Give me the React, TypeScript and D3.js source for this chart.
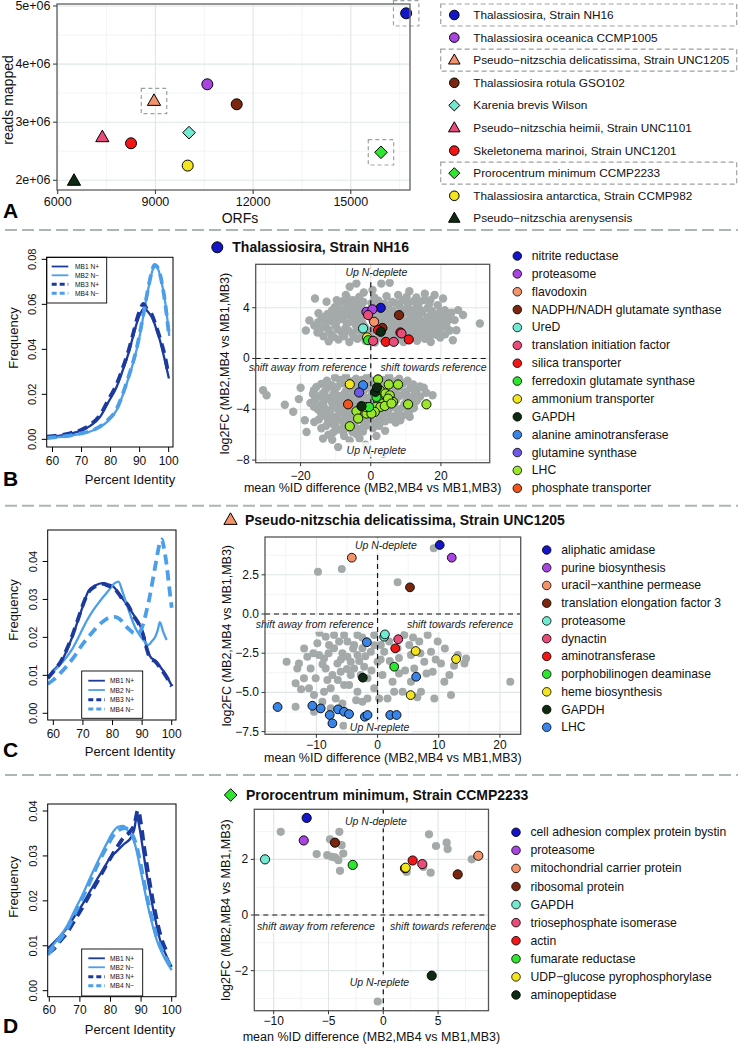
import React from "react";
import * as d3 from "d3";

const FONT = "'Liberation Sans', Arial, Helvetica, sans-serif";
type Pt = [number, number];
type Hi = [number, number, number];

// ================= Panel A data =================
const speciesNames = [
  "Thalassiosira, Strain NH16",
  "Thalassiosira oceanica CCMP1005",
  "Pseudo\u2212nitzschia delicatissima, Strain UNC1205",
  "Thalassiosira rotula GSO102",
  "Karenia brevis Wilson",
  "Pseudo\u2212nitzschia heimii, Strain UNC1101",
  "Skeletonema marinoi, Strain UNC1201",
  "Prorocentrum minimum CCMP2233",
  "Thalassiosira antarctica, Strain CCMP982",
  "Pseudo\u2212nitzschia arenysensis",
];
const speciesColors = ["#1414c8", "#a845e0", "#f4926a", "#7b2710", "#72ead2", "#e84c78", "#f21616", "#2ee62e", "#f2e41e", "#0e2a12"];
const speciesShapes = ["circle", "circle", "triangle", "circle", "diamond", "triangle", "circle", "diamond", "circle", "triangle"];
const speciesORFs = [16700, 10594, 8957, 11496, 10032, 7370, 8251, 15927, 9992, 6500];
const speciesReads = [4.874e6, 3.652e6, 3.365e6, 3.308e6, 2.82e6, 2.74e6, 2.637e6, 2.482e6, 2.253e6, 1.99e6];
const highlightedSpecies = [0, 2, 7];
const aXTicks = [6000, 9000, 12000, 15000];
const aXMinor = [7500, 10500, 13500, 16500];
const aYTicks = [2e6, 3e6, 4e6, 5e6];
const aYTickLabels = ["2e+06", "3e+06", "4e+06", "5e+06"];
const aYMinor = [2.5e6, 3.5e6, 4.5e6];

// ================= Density data =================
const densitySeries = ["MB1 N+", "MB2 N\u2212", "MB3 N+", "MB4 N\u2212"];
const densityColors = ["#1c3a9e", "#4c9ee9", "#1c3a9e", "#4c9ee9"];
const densityDashed = [false, false, true, true];
const densityXTicks = [60, 70, 80, 90, 100];

const bMB1: Pt[] = [[58,0.001],[62,0.0015],[66,0.0025],[70,0.004],[73,0.006],[76.4,0.010],[79,0.016],[82.1,0.0234],[84,0.030],[86.1,0.038],[88,0.047],[89,0.0515],[90.3,0.056],[91.5,0.0582],[93,0.0565],[94.7,0.053],[96,0.048],[97,0.044],[98.7,0.035],[100.1,0.027]];
const bMB2: Pt[] = [[58,0.0005],[62,0.001],[66,0.0015],[70,0.0025],[73,0.0035],[76.4,0.0055],[79,0.008],[82.1,0.013],[84,0.019],[86.1,0.027],[88,0.035],[89,0.040],[90.2,0.047],[91.3,0.055],[93,0.067],[94.2,0.074],[95,0.0768],[96,0.0765],[97,0.073],[98,0.067],[98.7,0.062],[100.2,0.046]];
const bMB3: Pt[] = [[58,0.0012],[62,0.0017],[66,0.0027],[70,0.0043],[73,0.0065],[76.4,0.0108],[79,0.017],[82.1,0.0245],[84,0.031],[86.1,0.039],[88,0.048],[89,0.053],[90.3,0.058],[91.3,0.0602],[92.5,0.058],[94,0.056],[95.5,0.051],[97,0.045],[98.7,0.037],[99.9,0.029]];
const bMB4: Pt[] = [[58,0.0006],[62,0.0011],[66,0.0017],[70,0.0027],[73,0.0037],[76.4,0.0058],[79,0.0085],[82.1,0.0135],[84,0.0195],[86.1,0.0275],[88,0.0355],[89,0.0405],[90.2,0.048],[91.3,0.0555],[93,0.0675],[94.2,0.0745],[95.1,0.0775],[96,0.0768],[97,0.0735],[98,0.0672],[98.7,0.0615],[100.1,0.0465]];

const cMB1: Pt[] = [[58.1,0.0094],[60,0.0113],[62.8,0.0137],[64.5,0.0165],[66.2,0.0197],[68,0.0237],[69.6,0.0274],[71.8,0.0321],[74,0.0336],[76.9,0.0343],[78.5,0.034],[80.3,0.0334],[82,0.0318],[83.6,0.030],[85.3,0.0282],[87,0.0261],[88.7,0.024],[90.4,0.021],[91.5,0.0175],[92.7,0.015],[94.5,0.0138],[96,0.0124],[98.3,0.0098],[100,0.0073]];
const cMB2: Pt[] = [[58.1,0.0096],[60,0.011],[62.3,0.0128],[64.5,0.0148],[66.2,0.0167],[68.8,0.0205],[71.3,0.0244],[73.5,0.0272],[75.8,0.0296],[78.3,0.032],[80.8,0.0343],[82,0.0347],[83.4,0.032],[84.8,0.0287],[86.2,0.0255],[87.6,0.0227],[89,0.0208],[90.4,0.0193],[92.1,0.018],[93.3,0.019],[94.4,0.0201],[95.3,0.022],[96,0.024],[97.1,0.0215],[98.3,0.0193]];
const cMB3: Pt[] = [[58.1,0.0092],[60,0.011],[62.8,0.014],[64.5,0.0168],[66.2,0.02],[68,0.024],[69.6,0.0277],[71.8,0.0318],[74,0.0334],[76.9,0.0341],[78.5,0.0336],[80.3,0.0331],[82,0.0316],[83.6,0.0298],[85.3,0.0284],[87,0.0258],[88.7,0.0238],[90.4,0.0205],[91.5,0.0172],[92.7,0.0145],[94.5,0.0136],[96,0.0121],[98.3,0.0095],[100,0.0071]];
const cMB4: Pt[] = [[58.1,0.0077],[60,0.0088],[62.3,0.0105],[64.5,0.0124],[67.3,0.0152],[70.1,0.0184],[72.4,0.0206],[74.7,0.0227],[77,0.0243],[79.2,0.0253],[80.8,0.0254],[82.5,0.0248],[84.2,0.0232],[85.9,0.0219],[87,0.0212],[88.2,0.021],[89.3,0.0215],[90.4,0.0236],[91.5,0.027],[92.7,0.0313],[93.8,0.036],[94.9,0.0407],[95.7,0.044],[96.6,0.0458],[97.4,0.0435],[98.3,0.039],[99.2,0.033],[100,0.0278]];

const dMB1: Pt[] = [[59.5,0.0094],[62.6,0.0115],[65.7,0.0139],[68.4,0.0167],[71.1,0.0195],[73.3,0.0221],[75.5,0.0247],[77.7,0.0271],[79.8,0.0295],[82,0.031],[84.2,0.0325],[86.9,0.0343],[87.8,0.036],[88.6,0.0388],[89.6,0.0358],[90.7,0.031],[91.8,0.0261],[92.9,0.022],[94,0.018],[95.1,0.0145],[96.2,0.0113],[98,0.0082],[100,0.0053]];
const dMB2: Pt[] = [[59.5,0.0087],[62.6,0.0113],[65.7,0.0143],[68.4,0.018],[71.1,0.0217],[73.8,0.0258],[76.6,0.0298],[78.8,0.0328],[80.9,0.0354],[82.5,0.0365],[84.2,0.0367],[85.8,0.0355],[87.5,0.0336],[88.6,0.031],[89.6,0.0276],[90.7,0.024],[91.8,0.0202],[93.4,0.0155],[95.1,0.0113],[97.5,0.0075],[100,0.0046]];
const dMB3: Pt[] = [[59.5,0.0083],[61.5,0.0093],[63.5,0.011],[65.7,0.0128],[68.4,0.0158],[71.1,0.0188],[73.3,0.0215],[75.5,0.024],[77.7,0.0268],[79.8,0.0293],[82,0.0318],[84.2,0.034],[86.5,0.0355],[87.8,0.037],[89,0.0402],[90,0.037],[91,0.032],[92,0.0275],[93.2,0.0225],[94.5,0.0178],[95.8,0.0138],[97.2,0.0105],[98.6,0.0085]];
const dMB4: Pt[] = [[59.5,0.008],[62.6,0.0106],[65.7,0.0136],[68.4,0.0172],[71.1,0.021],[73.8,0.025],[76.6,0.0292],[78.8,0.032],[80.9,0.0345],[82.5,0.0357],[84.8,0.0362],[86.2,0.0356],[87.5,0.0342],[88.6,0.032],[89.6,0.029],[90.7,0.0252],[91.8,0.0213],[93.4,0.0165],[95.1,0.012],[97.5,0.0081],[100,0.005]];

// ================= Scatter B =================
const bGenes = ["nitrite reductase","proteasome","flavodoxin","NADPH/NADH glutamate synthase","UreD","translation initiation factor","silica transporter","ferredoxin glutamate synthase","ammonium transporter","GAPDH","alanine aminotransferase","glutamine synthase","LHC","phosphate transporter"];
const bColors = ["#1414c8","#a845e0","#f4926a","#7b2710","#72ead2","#e84c78","#f21616","#2ee62e","#f2e41e","#0e2a12","#3a86e8","#6c5ae6","#9ae62a","#f2541e"];
const bGrayUp: Pt[] = [
  [-12,1.35],[-9.2,1.5],[-6.1,1.3],[-3.8,1.55],[-1.5,1.4],[1.2,1.25],[3.3,1.6],[5.4,1.35],[7.6,1.5],[9.3,1.3],[11.5,1.6],[13.2,1.4],[15.4,1.55],[17.1,1.3],[19.8,1.65],[23.4,1.44],
  [-15.2,2.05],[-11.3,1.9],[-8.4,2.1],[-5.2,1.95],[-3.1,2.2],[-0.8,1.85],[2.3,2.0],[4.4,1.9],[6.2,2.15],[8.1,1.95],[10.4,2.1],[12.3,1.9],[14.1,2.2],[16.3,1.95],[18.2,2.1],[21.5,2.5],[24.4,2.23],
  [-16.1,2.6],[-13.2,2.45],[-10.1,2.6],[-7.2,2.4],[-4.3,2.65],[-1.7,2.5],[1.1,2.55],[3.6,2.7],[5.9,2.45],[8.6,2.6],[11.2,2.5],[13.6,2.65],[15.9,2.45],[18.6,2.7],[20.8,2.55],
  [-14.1,3.05],[-11.2,2.95],[-8.3,3.1],[-5.6,2.9],[-3.2,3.15],[0.4,3.05],[3.1,3.2],[5.5,2.95],[8.2,3.1],[10.6,3.0],[13.1,3.2],[15.6,2.95],[17.9,3.15],[20.2,3.0],[22.6,3.1],[23.9,3.02],
  [-12.3,3.5],[-9.1,3.6],[-6.6,3.45],[-4.1,3.65],[1.6,3.5],[4.6,3.6],[7.1,3.45],[9.6,3.65],[12.2,3.5],[14.6,3.6],[17.2,3.45],[19.6,3.6],[26.3,3.42],
  [-10.2,4.05],[-7.1,3.95],[-5.2,4.15],[-3.0,4.0],[1.0,4.1],[5.1,3.95],[8.1,4.15],[10.6,4.0],[13.2,4.1],[16.1,3.95],[19.1,4.2],[21.1,3.81],[24.9,3.81],
  [-8.2,4.5],[-5.1,4.6],[-2.1,4.45],[2.2,4.55],[6.1,4.45],[9.1,4.6],[12.1,4.5],[15.2,4.6],[18.2,5.0],[20.6,4.73],
  [-15.9,4.73],[-14.9,3.56],[-15.2,2.45],[-12.6,4.47],[-9.7,4.6],[-7.1,5.0],[-6.0,5.65],[-4.1,6.7],[-4.1,5.9],[3.0,5.9],[5.4,5.97],[7.8,5.0],[15.4,5.1],[31.1,2.76],[-2.0,5.2],[0.5,5.4],[11,5.3],[-17.5,3.0],[-18.5,2.2],
  [-13.5,1.75],[-10.6,1.7],[-7.6,1.75],[-4.8,1.7],[-2.3,1.75],[0.2,1.65],[2.6,1.75],[4.9,1.7],[6.9,1.8],[9.0,1.7],[11.0,1.8],[13.0,1.72],[14.8,1.78],[16.9,1.72],[18.9,1.85],[21.2,1.9],
  [-14.5,2.3],[-12.0,2.25],[-9.5,2.3],[-6.4,2.2],[-4.0,2.35],[-2.1,2.3],[0.3,2.25],[2.9,2.35],[5.2,2.25],[7.3,2.35],[9.5,2.3],[11.8,2.3],[13.0,2.4],[15.2,2.25],[17.3,2.35],[19.5,2.3],[22.5,2.2],
  [-15.0,2.85],[-12.6,2.8],[-9.8,2.85],[-6.8,2.75],[-4.5,2.9],[-2.4,2.8],[1.8,2.85],[4.4,2.95],[6.9,2.8],[9.4,2.85],[12.0,2.8],[14.4,2.9],[16.8,2.8],[19.2,2.85],[21.6,2.8],
  [-13.0,3.3],[-10.3,3.25],[-7.4,3.35],[-5.0,3.25],[-2.3,3.4],[0.0,3.3],[2.2,3.35],[4.0,3.3],[6.3,3.3],[8.8,3.35],[11.3,3.3],[13.8,3.35],[16.3,3.25],[18.8,3.35],[21.3,3.3],
  [-11.0,3.8],[-8.2,3.8],[-5.8,3.85],[-2.2,3.8],[0.1,3.75],[3.4,3.8],[6.3,3.75],[9.1,3.85],[11.6,3.8],[14.0,3.85],[17.4,3.75],[20.1,3.7],[23.0,3.6],
  [-9.2,4.3],[-6.5,4.35],[-3.8,4.3],[0.2,4.35],[3.9,4.3],[7.2,4.35],[10.5,4.3],[13.7,4.35],[16.7,4.3],
  [-6.8,4.8],[-3.3,4.85],[1.0,4.8],[4.5,4.9],[10.2,4.85],[13.0,4.8],[17.0,4.6],
];
const bGrayDown: Pt[] = [
  [-10.2,-1.5],[-7.1,-1.4],[-4.2,-1.6],[-1.1,-1.45],[2.1,-1.55],[5.2,-1.4],[8.1,-1.6],
  [-14.1,-2.0],[-11.2,-2.1],[-8.1,-1.95],[-5.2,-2.05],[-3.1,-1.9],[-0.6,-2.1],[3.1,-2.0],[6.1,-2.1],[9.2,-1.95],[12.1,-2.05],
  [-16.2,-2.5],[-13.1,-2.6],[-10.2,-2.45],[-7.1,-2.55],[-4.6,-2.4],[-2.1,-2.6],[0.6,-2.45],[3.6,-2.55],[7.1,-2.5],[10.1,-2.6],[13.2,-2.45],[15.1,-2.3],
  [-15.1,-3.0],[-12.1,-3.1],[-9.1,-2.95],[-6.1,-3.05],[-3.6,-2.95],[-1.1,-3.1],[2.1,-3.0],[5.1,-3.1],[8.1,-2.95],[11.1,-3.05],[14.1,-3.0],[17.6,-2.9],
  [-17.2,-3.5],[-14.1,-3.6],[-11.1,-3.45],[-8.6,-3.55],[-5.1,-3.5],[-2.6,-3.6],[0.1,-3.45],[3.1,-3.55],[6.6,-3.5],[9.6,-3.6],[12.6,-3.45],
  [-15.1,-4.0],[-12.2,-4.1],[-9.6,-3.95],[-7.1,-4.05],[-4.1,-4.0],[-1.6,-4.1],[1.6,-3.95],[5.1,-4.05],[8.1,-4.0],[11.1,-4.1],
  [-13.1,-4.5],[-10.1,-4.6],[-7.6,-4.45],[-5.6,-4.55],[-3.1,-4.5],[0.1,-4.6],[3.1,-4.45],[6.6,-4.55],[9.1,-4.5],[11.1,-4.6],
  [-16.1,-5.0],[-11.1,-5.1],[-8.1,-4.95],[-5.1,-5.05],[-2.1,-5.0],[1.1,-5.1],[4.1,-4.95],[7.1,-5.05],[8.4,-4.87],
  [-14.1,-5.5],[-9.1,-5.6],[-6.1,-5.45],[-3.1,-5.55],[0.6,-5.5],[4.1,-5.7],
  [-12.1,-6.0],[-7.6,-6.1],[-4.1,-5.95],[1.6,-6.1],
  [-30.7,-2.5],[-29.7,-2.9],[-24.5,-3.64],[-22.1,-4.2],[-20.5,-3.2],[-18.8,-4.86],[-18.3,-5.79],[-13.6,-6.31],[-9.3,-6.98],[-6.0,-6.45],[3.5,-7.5],[-1.5,-6.8],[-20,-2.3],
  [-12.5,-1.75],[-8.8,-1.7],[-5.7,-1.8],[-2.5,-1.7],[0.6,-1.75],[3.6,-1.7],[6.6,-1.8],[10.5,-1.75],
  [-15.5,-2.25],[-12.4,-2.3],[-9.6,-2.25],[-6.3,-2.3],[-3.6,-2.25],[-1.2,-2.35],[1.8,-2.2],[4.6,-2.3],[8.2,-2.25],[11.3,-2.3],[14.0,-2.2],
  [-16.5,-2.8],[-13.8,-2.8],[-10.6,-2.75],[-7.6,-2.8],[-4.9,-2.75],[-2.4,-2.8],[0.4,-2.8],[3.9,-2.75],[6.8,-2.8],[9.5,-2.75],[12.5,-2.8],[15.8,-2.7],
  [-16.0,-3.3],[-13.2,-3.3],[-10.0,-3.25],[-7.3,-3.3],[-4.3,-3.25],[-1.9,-3.35],[1.0,-3.25],[4.1,-3.3],[7.2,-3.3],[10.2,-3.25],[13.2,-3.3],
  [-16.2,-3.8],[-13.4,-3.8],[-10.8,-3.75],[-8.2,-3.8],[-5.6,-3.75],[-3.0,-3.85],[-0.6,-3.75],[2.6,-3.8],[6.4,-3.8],[9.4,-3.8],[12.3,-3.9],
  [-14.2,-4.3],[-11.6,-4.3],[-8.8,-4.25],[-6.4,-4.3],[-4.6,-4.3],[-2.0,-4.3],[1.5,-4.3],[4.6,-4.3],[7.7,-4.3],[10.4,-4.35],
  [-14.8,-4.8],[-12.2,-4.8],[-9.6,-4.8],[-6.6,-4.8],[-3.8,-4.8],[-0.9,-4.85],[2.4,-4.8],[5.7,-4.8],
  [-12.7,-5.3],[-10.2,-5.3],[-7.6,-5.25],[-4.6,-5.3],[-1.4,-5.3],[2.4,-5.3],
  [-10.6,-5.8],[-7.8,-5.75],[-5.2,-5.8],[-2.2,-5.75],[-11.0,-6.4],[-3.2,-6.3],
];
const bHighlights: Hi[] = [
  [0,2.85,3.99],[1,-1.23,3.68],[1,0.48,3.87],[5,-0.77,3.42],[4,-2.19,2.37],[2,0.95,2.89],[3,3.32,2.41],[3,8.06,3.42],
  [6,2.08,2.23],[9,2.85,2.1],[6,4.27,1.31],[6,10.83,1.5],[6,8.45,2.05],[5,6.55,1.31],[5,8.75,1.97],
  [8,-1.05,1.66],[7,-0.77,1.44],[5,0.66,1.39],
  [8,-5.98,-2.03],[10,-2.19,-2.11],[11,-3.33,-2.68],[13,-6.47,-3.61],
  [12,2.08,-1.66],[12,5.13,-2.05],[12,7.78,-2.05],[12,2.56,-2.5],[12,4.19,-2.76],[12,5.41,-2.9],[12,2.08,-3.29],[12,3.5,-3.55],[12,6.35,-3.42],[12,4.93,-3.16],[12,1.34,-3.82],[12,2.75,-3.82],[12,3.99,-3.74],[12,5.89,-3.55],[12,-1.23,-4.34],[12,-4.08,-4.16],[12,-3.6,-4.73],[12,-1.42,-3.82],[12,1.14,-4.21],[12,0.19,-4.34],[12,10.64,-3.61],[12,15.86,-3.61],[12,-5.98,-5.34],
  [7,-0.48,-3.82],[7,1.62,-3.03],
  [9,1.34,-2.63],[9,1.8,-2.29],[9,-2.65,-3.76],
];
const bXTicks = [-20, 0, 20];
const bXTickLabels = ["\u221220", "0", "20"];
const bXMinor = [-30, -10, 10, 30];
const bYTicks = [-8, -4, 0, 4];
const bYTickLabels = ["\u22128", "\u22124", "0", "4"];
const bYMinor = [-6, -2, 2, 6];

// ================= Scatter C =================
const cGenes = ["aliphatic amidase","purine biosynthesis","uracil\u2212xanthine permease","translation elongation factor 3","proteasome","dynactin","aminotransferase","porphobilinogen deaminase","heme biosynthesis","GAPDH","LHC"];
const cColors = ["#1414c8","#a845e0","#f4926a","#7b2710","#72ead2","#e84c78","#f21616","#2ee62e","#f2e41e","#0e2a12","#3a86e8"];
const cGray: Pt[] = [
  [-9.74,2.7],[-5.85,2.87],[9.18,4.19],[3.28,2.02],
  [-14.87,-3.04],[-13.4,-4.42],[-13.4,-5.91],[-11.48,-2.72],[-9.84,-1.87],[-9.57,-2.62],[-8.48,-1.45],[-8.48,-3.47],[-7.11,-1.34],[-7.11,-2.19],[-6.56,-3.15],[-5.75,-2.51],[-5.47,-1.34],[-4.93,-1.76],[-4.38,-3.04],[-3.83,-1.98],[-3.29,-1.34],[-3.29,-2.62],[-2.47,-2.19],[-2.19,-3.36],[-1.65,-4.1],[-1.1,-2.4],[-0.55,-1.34],[0,-3.04],[0.54,-1.98],[1.09,-2.4],[2.45,-4.32],[2.72,-4.95],[1.63,-5.38],[4.09,-4.95],[4.36,-1.34],[5.18,-1.98],[5.46,-2.62],[6.0,-3.47],[6.82,-1.76],[7.64,-3.04],[8.19,-1.34],[8.74,-2.4],[9.01,-3.68],[9.28,-5.38],[9.83,-1.76],[10.37,-3.15],[10.92,-4.32],[11.74,-3.89],[12.01,-5.17],[13.11,-2.62],[14.2,-3.15],[14.47,-2.83],
  [-13.12,-3.47],[-11.21,-4.74],[-10.12,-4.1],[-8.75,-4.95],[-7.66,-4.74],[-6.84,-5.38],[-5.47,-4.53],[-4.38,-3.89],[-3.29,-4.95],[-2.47,-5.59],[-1.65,-5.38],[-5.75,-5.7],[-7.66,-6.01],[-9.02,-5.59],[-10.39,-5.17],[-12.85,-3.15],[-5.58,-7.12],[1.9,-1.76],[3.27,-2.19],[0.81,-3.89],[-0.55,-4.74],[0.27,-5.38],[5.46,-4.32],[7.1,-4.95],
  [-7.93,-1.98],[-6.29,-1.76],[-7.38,-3.89],[-6.02,-3.68],[-4.93,-2.72],[-3.83,-3.47],[-2.74,-3.89],[-4.65,-4.53],[-10.94,-3.47],[-8.75,-2.83],[-12.03,-4.1],[-10.39,-6.23],[21.7,-4.32],
  [-12.0,-2.2],[-10.5,-2.5],[-9.0,-3.2],[-8.0,-2.5],[-6.0,-2.9],[-5.0,-3.5],[-4.0,-2.2],[-3.0,-3.0],[-2.0,-2.7],[-1.0,-3.6],[-0.5,-2.0],[0.5,-2.9],[2.0,-3.0],[3.5,-2.8],[4.5,-3.6],[5.8,-1.5],[7.0,-2.5],[8.0,-3.8],[9.5,-2.9],[11.0,-2.2],[12.5,-3.3],[-6.5,-4.2],[-8.2,-4.2],[-3.5,-5.5],[-12.5,-4.8],[6.5,-5.3],[3.5,-3.8],[-9.5,-1.2],[-2.5,-1.5],
];
const cHighlights: Hi[] = [
  [0,10.16,4.4],[1,12.13,3.59],[2,-4.21,3.59],[3,5.3,1.7],[4,1.08,-1.45],[4,1.2,-1.3],[5,3.38,-1.61],[6,2.89,-2.19],[7,2.72,-3.36],[8,6.23,-2.36],[8,12.84,-2.87],[8,5.41,-5.17],[9,-2.41,-4.06],
  [10,-1.75,-1.8],[10,6.31,-4.0],[10,-16.34,-5.93],[10,-10.66,-5.85],[10,-9.3,-6.02],[10,-7.82,-6.44],[10,-7.38,-6.97],[10,-6.46,-6.08],[10,-5.48,-6.23],[10,-4.66,-6.38],[10,-2.08,-6.55],[10,-1.64,-6.44],[10,2.07,-6.44],[10,3.11,-6.44],
];
const cXTicks = [-10, 0, 10, 20];
const cXTickLabels = ["\u221210", "0", "10", "20"];
const cXMinor = [-15, -5, 5, 15];
const cYTicks = [-7.5, -5, -2.5, 0, 2.5];
const cYTickLabels = ["\u22127.5", "\u22125.0", "\u22122.5", "0.0", "2.5"];
const cYMinor = [-6.25, -3.75, -1.25, 1.25, 3.75];

// ================= Scatter D =================
const dGenes = ["cell adhesion complex protein bystin","proteasome","mitochondrial carrier protein","ribosomal protein","GAPDH","triosephosphate isomerase","actin","fumarate reductase","UDP\u2212glucose pyrophosphorylase","aminopeptidase"];
const dColors = ["#1414c8","#a845e0","#f4926a","#7b2710","#72ead2","#e84c78","#f21616","#2ee62e","#f2e41e","#0e2a12"];
const dGray: Pt[] = [
  [-9.36,2.99],[-6.08,2.19],[-5.11,2.15],[-4.86,2.72],[-4.71,2.09],[-4.1,1.97],[-4.01,2.99],[-3.8,2.51],[-3.65,2.21],[-3.95,1.59],[-4.41,2.07],
  [4.17,2.9],[4.81,2.48],[5.78,2.6],[5.87,2.37],[4.32,1.52],[3.65,1.73],[2.13,1.55],[8.07,2.0],[-0.51,-3.11],
];
const dHighlights: Hi[] = [
  [0,-6.99,3.49],[1,-7.26,2.68],[3,-4.41,2.6],[4,-10.79,2.0],[7,-2.79,1.8],[6,1.98,1.68],[6,2.68,1.96],[8,2.04,1.7],[5,3.56,1.83],[3,6.79,1.46],[2,8.67,2.13],[9,4.42,-2.18],
];
const dXTicks = [-10, -5, 0, 5];
const dXTickLabels = ["\u221210", "\u22125", "0", "5"];
const dXMinor = [-7.5, -2.5, 2.5, 7.5];
const dYTicks = [-2, 0, 2];
const dYTickLabels = ["\u22122", "0", "2"];
const dYMinor = [-3, -1, 1, 3];

// ================= styling =================
const GRID_MAJOR = "#dfe6e6";
const GRID_MINOR = "#edf1f1";
const BORDER = "#555";
const GRAY_PT = "#a4a9a9";
const SEP = "#adb5b5";

let measureCtx: CanvasRenderingContext2D | null = null;
function textWidth(t: string, size: number, style = "") {
  if (!measureCtx && typeof document !== "undefined") measureCtx = document.createElement("canvas").getContext("2d");
  if (!measureCtx) return t.length * size * 0.5;
  measureCtx.font = `${style} ${size}px ${FONT}`;
  return measureCtx.measureText(t).width;
}

function Sym({ shape, x, y, s, fill }: { shape: string; x: number; y: number; s: number; fill: string }) {
  if (shape === "triangle") {
    const pts = [[x, y - s * 1.3], [x - s * 1.2, y + s * 0.8], [x + s * 1.2, y + s * 0.8]];
    return <polygon points={pts.map((p) => p.join(",")).join(" ")} fill={fill} stroke="#000" strokeWidth={1} strokeLinejoin="round" />;
  }
  if (shape === "diamond") {
    const d = s * 1.15;
    return <polygon points={`${x},${y - d} ${x + d},${y} ${x},${y + d} ${x - d},${y}`} fill={fill} stroke="#000" strokeWidth={1} />;
  }
  return <circle cx={x} cy={y} r={s} fill={fill} stroke="#000" strokeWidth={1} />;
}

function PanelA() {
  const L = 57, R = 410, T = 4, B = 190;
  const x = d3.scaleLinear().domain([5978, 16818]).range([L, R]);
  const y = d3.scaleLinear().domain([1.833e6, 5.034e6]).range([B, T]);
  return (
    <g>
      <rect x={L} y={T} width={R - L} height={B - T} fill="#fff" />
      {aXMinor.map((v) => <line key={"xm" + v} x1={x(v)} x2={x(v)} y1={T} y2={B} stroke={GRID_MINOR} strokeWidth={0.7} />)}
      {aYMinor.map((v) => <line key={"ym" + v} x1={L} x2={R} y1={y(v)} y2={y(v)} stroke={GRID_MINOR} strokeWidth={0.7} />)}
      {aXTicks.map((v) => <line key={"xg" + v} x1={x(v)} x2={x(v)} y1={T} y2={B} stroke={GRID_MAJOR} strokeWidth={1.1} />)}
      {aYTicks.map((v) => <line key={"yg" + v} x1={L} x2={R} y1={y(v)} y2={y(v)} stroke={GRID_MAJOR} strokeWidth={1.1} />)}
      {highlightedSpecies.map((i) => (
        <rect key={"hb" + i} x={x(speciesORFs[i]) - 12.7} y={y(speciesReads[i]) - 12.7} width={25.4} height={25.4} fill="none" stroke="#9aa3a3" strokeWidth={1.2} strokeDasharray="4,3" />
      ))}
      {speciesORFs.map((v, i) => (
        <Sym key={"p" + i} shape={speciesShapes[i]} x={x(v)} y={y(speciesReads[i])} s={5.5} fill={speciesColors[i]} />
      ))}
      <rect x={L} y={T} width={R - L} height={B - T} fill="none" stroke="#6a6a6a" strokeWidth={1.4} />
      {aXTicks.map((v) => (
        <g key={"xt" + v}>
          <line x1={x(v)} x2={x(v)} y1={B} y2={B + 4} stroke="#333" />
          <text x={x(v)} y={B + 11.5} textAnchor="middle" dominantBaseline="central" fontSize={12.5} fill="#111">{v}</text>
        </g>
      ))}
      {aYTicks.map((v, i) => (
        <g key={"yt" + v}>
          <line x1={L - 4} x2={L} y1={y(v)} y2={y(v)} stroke="#333" />
          <text x={L - 6.5} y={y(v)} textAnchor="end" dominantBaseline="central" fontSize={12.5} fill="#111">{aYTickLabels[i]}</text>
        </g>
      ))}
      <text x={240} y={218} textAnchor="middle" dominantBaseline="central" fontSize={14} fill="#111">ORFs</text>
      <text transform={`translate(8,100) rotate(-90)`} textAnchor="middle" dominantBaseline="central" fontSize={14} fill="#111">reads mapped</text>
      <text x={3} y={218} fontSize={21} fontWeight="bold" fill="#000">A</text>
    </g>
  );
}

function LegendA() {
  const y0 = 15, dy = 22.6;
  return (
    <g>
      {highlightedSpecies.map((i) => (
        <rect key={"lb" + i} x={440.7} y={y0 + i * dy - 11} width={296} height={22} fill="none" stroke="#9aa3a3" strokeWidth={1.2} strokeDasharray="5,3" />
      ))}
      {speciesNames.map((n, i) => (
        <g key={n}>
          <Sym shape={speciesShapes[i]} x={454.3} y={y0 + i * dy} s={4.8} fill={speciesColors[i]} />
          <text x={473.3} y={y0 + i * dy} dominantBaseline="central" fontSize={11.8} fill="#111">{n}</text>
        </g>
      ))}
    </g>
  );
}

type Frame = { l: number; r: number; t: number; b: number };

function Density(props: {
  id: string; frame: Frame; xDomain: Pt; yDomain: Pt; yTicks: number[]; yTickLabels: string[];
  series: Pt[][]; legend: { x: number; y: number; w: number; h: number; rows: number[]; lx: number; tx: number };
  xTitleY: number; yTitleY: number; letter: string; letterY: number;
}) {
  const { id, frame, xDomain, yDomain, yTicks, yTickLabels, series, legend, xTitleY, yTitleY, letter, letterY } = props;
  const x = d3.scaleLinear().domain(xDomain).range([frame.l, frame.r]);
  const y = d3.scaleLinear().domain(yDomain).range([frame.b, frame.t]);
  const line = d3.line<Pt>().x((d) => x(d[0])).y((d) => y(d[1])).curve(d3.curveMonotoneX);
  return (
    <g>
      <defs>
        <clipPath id={id}>
          <rect x={frame.l} y={frame.t} width={frame.r - frame.l} height={frame.b - frame.t} />
        </clipPath>
      </defs>
      <g clipPath={`url(#${id})`}>
        {series.map((s, i) => (
          <path key={i} d={line(s) || ""} fill="none" stroke={densityColors[i]} strokeWidth={densityDashed[i] ? 3.8 : 2.3}
            strokeDasharray={densityDashed[i] ? "10,6" : undefined} strokeLinejoin="round" />
        ))}
      </g>
      <rect x={legend.x} y={legend.y} width={legend.w} height={legend.h} fill="#fff" stroke="#000" strokeWidth={0.9} />
      {densitySeries.map((n, i) => (
        <g key={n}>
          <line x1={legend.lx} x2={legend.lx + 16.6} y1={legend.rows[i]} y2={legend.rows[i]} stroke={densityColors[i]}
            strokeWidth={densityDashed[i] ? 3 : 1.8} strokeDasharray={densityDashed[i] ? "5,3" : undefined} />
          <text x={legend.tx} y={legend.rows[i]} dominantBaseline="central" fontSize={6.6} fill="#111">{n}</text>
        </g>
      ))}
      <rect x={frame.l} y={frame.t} width={frame.r - frame.l} height={frame.b - frame.t} fill="none" stroke="#000" strokeWidth={1} />
      {densityXTicks.map((v) => (
        <g key={"x" + v}>
          <line x1={x(v)} x2={x(v)} y1={frame.b} y2={frame.b + 5} stroke="#000" />
          <text x={x(v)} y={frame.b + 13.5} textAnchor="middle" dominantBaseline="central" fontSize={12} fill="#111">{v}</text>
        </g>
      ))}
      {yTicks.map((v, i) => (
        <g key={"y" + v}>
          <line x1={frame.l - 5} x2={frame.l} y1={y(v)} y2={y(v)} stroke="#000" />
          <text transform={`translate(${frame.l - 14.5},${y(v)}) rotate(-90)`} textAnchor="middle" dominantBaseline="central" fontSize={11} fill="#111">{yTickLabels[i]}</text>
        </g>
      ))}
      <text x={130} y={xTitleY} textAnchor="middle" dominantBaseline="central" fontSize={13} fill="#111">Percent Identity</text>
      <text transform={`translate(13.3,${yTitleY}) rotate(-90)`} textAnchor="middle" dominantBaseline="central" fontSize={13} fill="#111">Frequency</text>
      <text x={3} y={letterY} fontSize={21} fontWeight="bold" fill="#000">{letter}</text>
    </g>
  );
}

function AnnLabel({ x, y, text, anchor }: { x: number; y: number; text: string; anchor: "start" | "middle" | "end" }) {
  const fs = 10.5;
  const w = textWidth(text, fs, "italic");
  const x0 = anchor === "middle" ? x - w / 2 : anchor === "end" ? x - w : x;
  return (
    <g>
      <rect x={x0 - 3} y={y - 7.5} width={w + 6} height={15} rx={2} fill="#fff" fillOpacity={0.85} />
      <text x={x0} y={y} dominantBaseline="central" fontSize={fs} fontStyle="italic" fill="#222">{text}</text>
    </g>
  );
}

function Scatter(props: {
  frame: Frame; xDomain: Pt; yDomain: Pt;
  xTicks: number[]; xTickLabels: string[]; xMinor: number[];
  yTicks: number[]; yTickLabels: string[]; yMinor: number[];
  gray: Pt[]; highlights: Hi[]; colors: string[];
  ann: { deplete: Pt; replete: Pt; away: Pt; towards: Pt };
  xTickY: number; xTitleY: number; yTitleX: number; pr: number; gr: number;
}) {
  const { frame, xDomain, yDomain, xTicks, xTickLabels, xMinor, yTicks, yTickLabels, yMinor, gray, highlights, colors, ann, xTickY, xTitleY, yTitleX, pr, gr } = props;
  const x = d3.scaleLinear().domain(xDomain).range([frame.l, frame.r]);
  const y = d3.scaleLinear().domain(yDomain).range([frame.b, frame.t]);
  const inX = (v: number) => v > xDomain[0] && v < xDomain[1];
  const inY = (v: number) => v > yDomain[0] && v < yDomain[1];
  return (
    <g>
      <rect x={frame.l} y={frame.t} width={frame.r - frame.l} height={frame.b - frame.t} fill="#fff" />
      {xMinor.filter(inX).map((v) => <line key={"xm" + v} x1={x(v)} x2={x(v)} y1={frame.t} y2={frame.b} stroke={GRID_MINOR} strokeWidth={0.7} />)}
      {yMinor.filter(inY).map((v) => <line key={"ym" + v} x1={frame.l} x2={frame.r} y1={y(v)} y2={y(v)} stroke={GRID_MINOR} strokeWidth={0.7} />)}
      {xTicks.map((v) => <line key={"xg" + v} x1={x(v)} x2={x(v)} y1={frame.t} y2={frame.b} stroke={GRID_MAJOR} strokeWidth={1.1} />)}
      {yTicks.map((v) => <line key={"yg" + v} x1={frame.l} x2={frame.r} y1={y(v)} y2={y(v)} stroke={GRID_MAJOR} strokeWidth={1.1} />)}
      {gray.map((p, i) => <circle key={"g" + i} cx={x(p[0])} cy={y(p[1])} r={gr} fill={GRAY_PT} />)}
      <line x1={x(0)} x2={x(0)} y1={frame.t} y2={frame.b} stroke="#111" strokeWidth={1.2} strokeDasharray="5,4" />
      <line x1={frame.l} x2={frame.r} y1={y(0)} y2={y(0)} stroke="#111" strokeWidth={1.2} strokeDasharray="5,4" />
      <AnnLabel x={x(ann.deplete[0])} y={y(ann.deplete[1])} text="Up N-deplete" anchor="middle" />
      <AnnLabel x={x(ann.replete[0])} y={y(ann.replete[1])} text="Up N-replete" anchor="middle" />
      <AnnLabel x={x(ann.away[0])} y={y(ann.away[1])} text="shift away from reference" anchor="end" />
      <AnnLabel x={x(ann.towards[0])} y={y(ann.towards[1])} text="shift towards reference" anchor="start" />
      {highlights.map((h, i) => <circle key={"h" + i} cx={x(h[1])} cy={y(h[2])} r={pr} fill={colors[h[0]]} stroke="#000" strokeWidth={0.9} />)}
      <rect x={frame.l} y={frame.t} width={frame.r - frame.l} height={frame.b - frame.t} fill="none" stroke={BORDER} strokeWidth={1.3} />
      {xTicks.map((v, i) => (
        <g key={"xt" + v}>
          <line x1={x(v)} x2={x(v)} y1={frame.b} y2={frame.b + 3.5} stroke="#333" />
          <text x={x(v)} y={xTickY} textAnchor="middle" dominantBaseline="central" fontSize={12} fill="#111">{xTickLabels[i]}</text>
        </g>
      ))}
      {yTicks.map((v, i) => (
        <g key={"yt" + v}>
          <line x1={frame.l - 3.5} x2={frame.l} y1={y(v)} y2={y(v)} stroke="#333" />
          <text x={frame.l - 6} y={y(v)} textAnchor="end" dominantBaseline="central" fontSize={12} fill="#111">{yTickLabels[i]}</text>
        </g>
      ))}
      <text x={(frame.l + frame.r) / 2} y={xTitleY} textAnchor="middle" dominantBaseline="central" fontSize={12.5} fill="#111">mean %ID difference (MB2,MB4 vs MB1,MB3)</text>
      <text transform={`translate(${yTitleX},${(frame.t + frame.b) / 2}) rotate(-90)`} textAnchor="middle" dominantBaseline="central" fontSize={12.5} fill="#111">log2FC (MB2,MB4 vs MB1,MB3)</text>
    </g>
  );
}

function GeneLegend({ names, colors, x, y0, dy }: { names: string[]; colors: string[]; x: number; y0: number; dy: number }) {
  return (
    <g>
      {names.map((n, i) => (
        <g key={n + i}>
          <circle cx={x} cy={y0 + i * dy} r={4.3} fill={colors[i]} stroke="#000" strokeWidth={0.8} />
          <text x={x + 14.5} y={y0 + i * dy} dominantBaseline="central" fontSize={12.2} fill="#111">{n}</text>
        </g>
      ))}
    </g>
  );
}

function Title({ shape, color, sx, tx, y, text }: { shape: string; color: string; sx: number; tx: number; y: number; text: string }) {
  return (
    <g>
      <Sym shape={shape} x={sx} y={y} s={5.5} fill={color} />
      <text x={tx} y={y} dominantBaseline="central" fontSize={14} fontWeight="bold" fill="#111">{text}</text>
    </g>
  );
}

function Separator({ y }: { y: number }) {
  return <line x1={5} x2={738} y1={y} y2={y} stroke={SEP} strokeWidth={2} strokeDasharray="12,5" />;
}

export default function App() {
  return (
    <div style={{ position: "absolute", left: 0, top: 0, width: 738, height: 1044, background: "#fff" }}>
      <svg width={738} height={1044} style={{ display: "block", fontFamily: FONT }}>
        <rect width={738} height={1044} fill="#fff" />
        <PanelA />
        <LegendA />
        <Separator y={230} />
        <Separator y={505.7} />
        <Separator y={775} />

        <Title shape="circle" color={speciesColors[0]} sx={217.3} tx={232.3} y={247.3} text="Thalassiosira, Strain NH16" />
        <Title shape="triangle" color={speciesColors[2]} sx={230.5} tx={245} y={520} text="Pseudo-nitzschia delicatissima, Strain UNC1205" />
        <Title shape="diamond" color={speciesColors[7]} sx={230.7} tx={246} y={795} text="Prorocentrum minimum, Strain CCMP2233" />

        <Density id="clipB" frame={{ l: 46.7, r: 173, t: 257.3, b: 447 }} xDomain={[58, 101.5]} yDomain={[-0.0034, 0.0809]}
          yTicks={[0, 0.02, 0.04, 0.06, 0.08]} yTickLabels={["0.00", "0.02", "0.04", "0.06", "0.08"]}
          series={[bMB1, bMB2, bMB3, bMB4]}
          legend={{ x: 46.7, y: 257.3, w: 60, h: 45.7, rows: [266.5, 275.3, 284.3, 293.3], lx: 51.7, tx: 75 }}
          xTitleY={479} yTitleY={338} letter="B" letterY={486} />
        <Density id="clipC" frame={{ l: 47.7, r: 176, t: 530, b: 720 }} xDomain={[58.1, 101.45]} yDomain={[-0.00177, 0.0483]}
          yTicks={[0, 0.01, 0.02, 0.03, 0.04]} yTickLabels={["0.00", "0.01", "0.02", "0.03", "0.04"]}
          series={[cMB1, cMB2, cMB3, cMB4]}
          legend={{ x: 81.7, y: 671, w: 61, h: 47.3, rows: [680.7, 690, 699.7, 709], lx: 88.3, tx: 110 }}
          xTitleY={751} yTitleY={610} letter="C" letterY={757} />
        <Density id="clipD" frame={{ l: 47.7, r: 176, t: 804, b: 996.7 }} xDomain={[59.48, 101.41]} yDomain={[-0.00134, 0.04156]}
          yTicks={[0, 0.01, 0.02, 0.03, 0.04]} yTickLabels={["0.00", "0.01", "0.02", "0.03", "0.04"]}
          series={[dMB1, dMB2, dMB3, dMB4]}
          legend={{ x: 81.7, y: 949, w: 61, h: 47, rows: [958.3, 967.3, 976.7, 985.7], lx: 88.3, tx: 110 }}
          xTitleY={1029} yTitleY={887} letter="D" letterY={1033} />

        <Scatter frame={{ l: 255.7, r: 489.7, t: 264.3, b: 462.7 }} xDomain={[-32.8, 33.9]} yDomain={[-8.21, 7.42]}
          xTicks={bXTicks} xTickLabels={bXTickLabels} xMinor={bXMinor} yTicks={bYTicks} yTickLabels={bYTickLabels} yMinor={bYMinor}
          gray={[...bGrayUp, ...bGrayDown]} highlights={bHighlights} colors={bColors}
          ann={{ deplete: [1.6, 6.83], replete: [1.6, -7.18], away: [-1.2, -0.66], towards: [2.76, -0.66] }}
          xTickY={475.5} xTitleY={488} yTitleX={225} pr={4.6} gr={4.2} />
        <GeneLegend names={bGenes} colors={bColors} x={517.3} y0={256} dy={17.87} />

        <Scatter frame={{ l: 265, r: 520.7, t: 537, b: 734.3 }} xDomain={[-18.4, 23.4]} yDomain={[-7.67, 4.91]}
          xTicks={cXTicks} xTickLabels={cXTickLabels} xMinor={cXMinor} yTicks={cYTicks} yTickLabels={cYTickLabels} yMinor={cYMinor}
          gray={cGray} highlights={cHighlights} colors={cColors}
          ann={{ deplete: [1.36, 4.4], replete: [0.33, -7.19], away: [-0.66, -0.66], towards: [4.8, -0.66] }}
          xTickY={745} xTitleY={757.7} yTitleX={226.7} pr={4.4} gr={4} />
        <GeneLegend names={cGenes} colors={cColors} x={546.7} y0={550} dy={17.73} />

        <Scatter frame={{ l: 254.3, r: 488.5, t: 809.3, b: 1010.7 }} xDomain={[-11.77, 9.6]} yDomain={[-3.44, 3.8]}
          xTicks={dXTicks} xTickLabels={dXTickLabels} xMinor={dXMinor} yTicks={dYTicks} yTickLabels={dYTickLabels} yMinor={dYMinor}
          gray={dGray} highlights={dHighlights} colors={dColors}
          ann={{ deplete: [-0.67, 3.38], replete: [-0.35, -2.4], away: [-0.76, -0.38], towards: [0.61, -0.38] }}
          xTickY={1020.7} xTitleY={1037} yTitleX={226} pr={4.6} gr={4.1} />
        <GeneLegend names={dGenes} colors={dColors} x={516} y0={832.3} dy={18.07} />
      </svg>
    </div>
  );
}
